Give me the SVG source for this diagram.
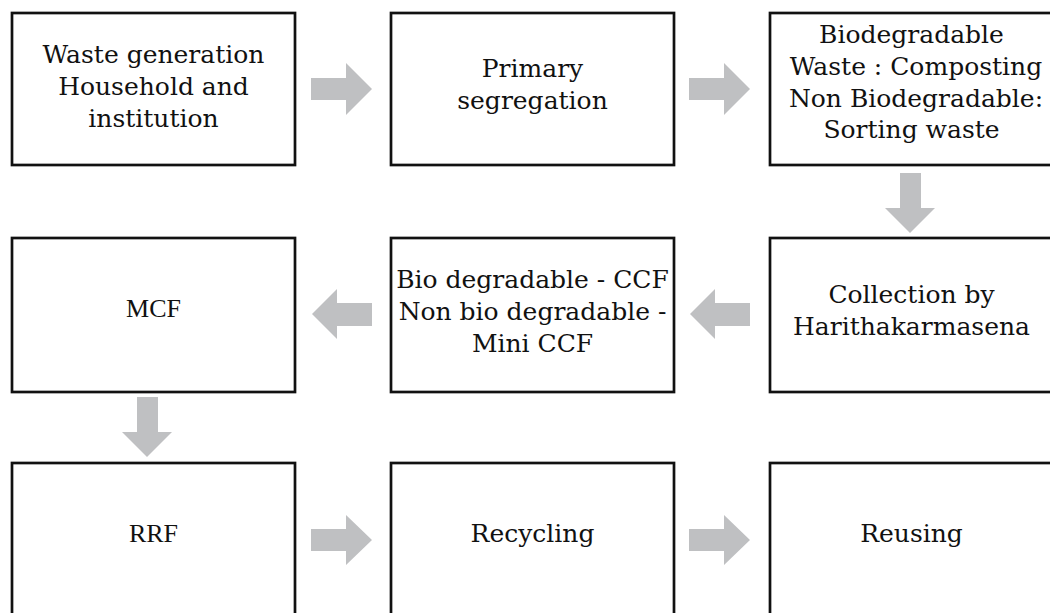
<svg xmlns="http://www.w3.org/2000/svg" width="1050" height="613" viewBox="0 0 1050 613">
<style>
.box{fill:#fff;stroke:#111;stroke-width:2.7}
.t{font-family:"DejaVu Serif","Liberation Serif",serif;font-size:25px;fill:#111;text-anchor:middle}
.tt{font-family:"Liberation Serif","Times New Roman",serif;font-size:26px;fill:#111;text-anchor:middle}
.arr{fill:#bfc0c2}
</style>
<rect width="1050" height="613" fill="#fff"/>
<g id="connectors">
<polygon class="arr" points="311,78 346,78 346,63 372,89 346,115 346,100 311,100"/>
<polygon class="arr" points="689,78 724,78 724,63 750,89 724,115 724,100 689,100"/>
<polygon class="arr" points="900,173 921,173 921,208 935,208 910,233 885,208 900,208"/>
<polygon class="arr" points="750,303 715,303 715,289 690,314 715,339 715,326 750,326"/>
<polygon class="arr" points="372,303 337,303 337,289 312,314 337,339 337,326 372,326"/>
<polygon class="arr" points="137,397 158,397 158,432 172,432 147,457 122,432 137,432"/>
<polygon class="arr" points="311,529 346,529 346,515 372,540 346,565 346,551 311,551"/>
<polygon class="arr" points="689,529 724,529 724,515 750,540 724,565 724,551 689,551"/>
</g>
<g id="n1"><rect class="box" x="12" y="13" width="283" height="152"/>
<text class="t" x="153.5" y="63">Waste generation</text>
<text class="t" x="153.5" y="95">Household and</text>
<text class="t" x="153.5" y="127">institution</text></g>
<g id="n2"><rect class="box" x="391" y="13" width="283" height="152"/>
<text class="t" x="532.5" y="77">Primary</text>
<text class="t" x="532.5" y="109">segregation</text></g>
<g id="n3"><rect class="box" x="770" y="13" width="283" height="152"/>
<text class="t" x="911.5" y="43">Biodegradable</text>
<text class="t" x="916" y="75">Waste : Composting</text>
<text class="t" x="916" y="107">Non Biodegradable:</text>
<text class="t" x="911.5" y="138">Sorting waste</text></g>
<g id="n4"><rect class="box" x="770" y="238" width="283" height="154"/>
<text class="t" x="911.5" y="303">Collection by</text>
<text class="t" x="911.5" y="335">Harithakarmasena</text></g>
<g id="n5"><rect class="box" x="391" y="238" width="283" height="154"/>
<text class="t" x="532.5" y="288">Bio degradable - CCF</text>
<text class="t" x="532.5" y="320">Non bio degradable -</text>
<text class="t" x="532.5" y="352">Mini CCF</text></g>
<g id="n6"><rect class="box" x="12" y="238" width="283" height="154"/>
<text class="tt" x="153.5" y="317">MCF</text></g>
<g id="n7"><rect class="box" x="12" y="463" width="283" height="154"/>
<text class="tt" x="153.5" y="542">RRF</text></g>
<g id="n8"><rect class="box" x="391" y="463" width="283" height="154"/>
<text class="t" x="532.5" y="542">Recycling</text></g>
<g id="n9"><rect class="box" x="770" y="463" width="283" height="154"/>
<text class="t" x="911.5" y="542">Reusing</text></g>
</svg>
